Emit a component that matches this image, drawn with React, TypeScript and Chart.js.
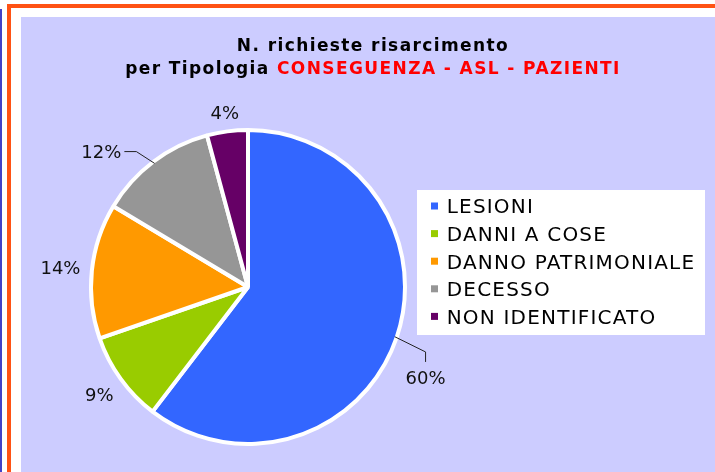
import React, { useEffect, useRef } from "react";
import { Chart, registerables } from "chart.js";

Chart.register(...registerables);

// ---- data ----
const categories = ["LESIONI", "DANNI A COSE", "DANNO PATRIMONIALE", "DECESSO", "NON IDENTIFICATO"];
const values = [60.4, 9.3, 13.9, 12.2, 4.2];
const colors = ["#3366FF", "#99CC00", "#FF9900", "#969696", "#660066"];
const titleLine1 = "N. richieste risarcimento";
const titleLine2Black = "per Tipologia ";
const titleLine2Red = "CONSEGUENZA - ASL - PAZIENTI";

// ---- label placement styles (leader line type, angular shift in degrees, extra distance) ----
const labelStyles: { leader: string | null; shift: number; extra: number }[] = [
  { leader: "top", shift: 8.4, extra: 42.5 },
  { leader: null, shift: 0, extra: 0 },
  { leader: null, shift: 0, extra: 0 },
  { leader: "right", shift: -10.2, extra: 42.6 },
  { leader: null, shift: 0, extra: 0 },
];

const W = 694;
const H = 455;

const decorPlugin = {
  id: "decor",
  afterDraw(chart: any) {
    const ctx: CanvasRenderingContext2D = chart.ctx;

    // Title
    ctx.save();
    ctx.font = 'bold 17px "DejaVu Sans"';
    (ctx as any).letterSpacing = "1.4px";
    ctx.textAlign = "left";
    ctx.textBaseline = "alphabetic";
    const tcx = 352;
    const w1 = ctx.measureText(titleLine1).width;
    ctx.fillStyle = "#000";
    ctx.fillText(titleLine1, tcx - w1 / 2, 34);
    const wa = ctx.measureText(titleLine2Black).width;
    const wb = ctx.measureText(titleLine2Red).width;
    const x0 = tcx - (wa + wb) / 2;
    ctx.fillText(titleLine2Black, x0, 57);
    ctx.fillStyle = "#FF0000";
    ctx.fillText(titleLine2Red, x0 + wa, 57);
    ctx.restore();

    // Data labels
    const meta = chart.getDatasetMeta(0);
    const data: number[] = chart.data.datasets[0].data;
    const total = data.reduce((a, b) => a + b, 0);
    ctx.save();
    ctx.font = '18px "DejaVu Sans"';
    ctx.textAlign = "center";
    ctx.textBaseline = "alphabetic";
    meta.data.forEach((arc: any, i: number) => {
      const p = arc.getProps(["x", "y", "startAngle", "endAngle", "outerRadius"], true);
      const mid = (p.startAngle + p.endAngle) / 2;
      const text = Math.round((data[i] / total) * 100) + "%";
      const tw = ctx.measureText(text).width;
      const th = 13;
      const st = labelStyles[i];
      let lx: number, ly: number;
      if (st.leader) {
        const a = mid + (st.shift * Math.PI) / 180;
        lx = p.x + Math.cos(a) * (p.outerRadius + st.extra);
        ly = p.y + Math.sin(a) * (p.outerRadius + st.extra);
      } else {
        const dx = Math.cos(mid);
        const dy = Math.sin(mid);
        const d = p.outerRadius + 11 + (Math.abs(dx) * tw) / 2 + (Math.abs(dy) * th) / 2;
        lx = p.x + dx * d;
        ly = p.y + dy * d;
      }
      ctx.fillStyle = "#111";
      ctx.fillText(text, lx, ly + 6.5);
      if (st.leader) {
        const sx = p.x + Math.cos(mid) * (p.outerRadius - 2);
        const sy = p.y + Math.sin(mid) * (p.outerRadius - 2);
        ctx.beginPath();
        ctx.moveTo(sx, sy);
        if (st.leader === "top") {
          ctx.lineTo(lx, ly - th / 2 - 19.5);
          ctx.lineTo(lx, ly - th / 2 - 9.5);
        } else {
          ctx.lineTo(lx + tw / 2 + 15, ly);
          ctx.lineTo(lx + tw / 2 + 3, ly);
        }
        ctx.strokeStyle = "#222";
        ctx.lineWidth = 1;
        ctx.stroke();
      }
    });
    ctx.restore();

    // Legend
    ctx.save();
    ctx.fillStyle = "#FFFFFF";
    ctx.fillRect(396, 173, 288, 145);
    ctx.font = '20px "DejaVu Sans"';
    (ctx as any).letterSpacing = "1.2px";
    ctx.textAlign = "left";
    ctx.textBaseline = "alphabetic";
    const labels: string[] = chart.data.labels;
    const bg: string[] = chart.data.datasets[0].backgroundColor;
    labels.forEach((lab, i) => {
      const cy = 189 + i * 27.6;
      ctx.fillStyle = bg[i];
      ctx.fillRect(410, cy - 3.5, 7, 7);
      ctx.fillStyle = "#000";
      ctx.fillText(lab, 425.7, cy + 7.3);
    });
    ctx.restore();
  },
};

export default function App() {
  const ref = useRef<HTMLCanvasElement | null>(null);

  useEffect(() => {
    if (!ref.current) return;
    const chart = new Chart(ref.current, {
      type: "pie",
      data: {
        labels: categories,
        datasets: [
          {
            data: values,
            backgroundColor: colors,
            borderColor: "#FFFFFF",
            borderWidth: 4,
            radius: 157,
          } as any,
        ],
      },
      options: {
        responsive: false,
        maintainAspectRatio: false,
        animation: false,
        devicePixelRatio: 1,
        layout: { padding: { left: 0, right: 240, top: 85, bottom: 0 } },
        plugins: {
          legend: { display: false },
          tooltip: { enabled: false },
          title: { display: false },
        },
      },
      plugins: [decorPlugin],
    });
    return () => chart.destroy();
  }, []);

  return (
    <div
      style={{
        position: "fixed",
        left: 0,
        top: 0,
        width: 715,
        height: 472,
        background: "#FFFFFF",
        overflow: "hidden",
      }}
    >
      <div style={{ position: "absolute", left: 0, top: 9, width: 2, height: 463, background: "#4141C8" }} />
      <div style={{ position: "absolute", left: 7, top: 4, width: 708, height: 4, background: "#FF5214" }} />
      <div style={{ position: "absolute", left: 7, top: 4, width: 4, height: 468, background: "#FF5214" }} />
      <div style={{ position: "absolute", left: 21, top: 17, width: W, height: H, background: "#CCCCFF" }} />
      <canvas
        ref={ref}
        width={W}
        height={H}
        style={{ position: "absolute", left: 21, top: 17, width: W, height: H }}
      />
    </div>
  );
}
